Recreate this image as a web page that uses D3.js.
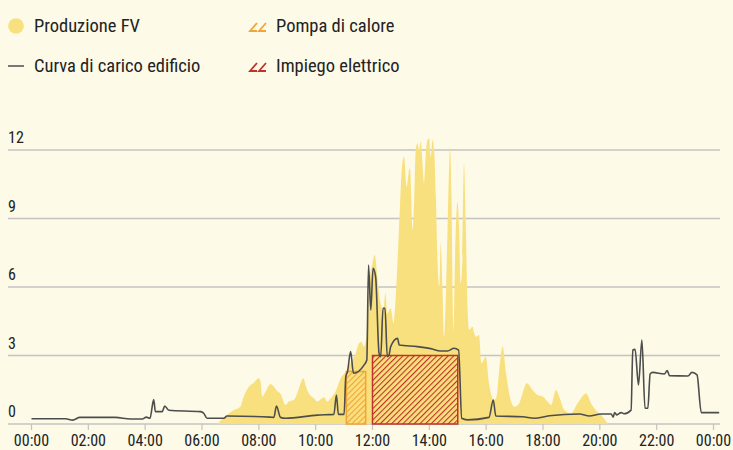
<!DOCTYPE html>
<html>
<head>
<meta charset="utf-8">
<script src="https://cdn.jsdelivr.net/npm/d3@7"></script>
<style>
    body { margin: 0; background: #fdfae8; }
    text { font-family: "Liberation Sans Narrow", "Roboto Condensed", "DejaVu Sans Condensed", sans-serif; fill: #222; }
</style>
</head>
<body>
<div id="chart"></div>
<script>
// hours of day, kW
let pvData = [
    [6.53, 0], [6.88, 0.39], [7.12, 0.61], [7.35, 0.76], [7.47, 1.2], [7.65, 1.63], [7.82, 1.81], [8.0, 2.0],
    [8.06, 1.85], [8.12, 1.2], [8.24, 1.42], [8.41, 1.75], [8.53, 1.63], [8.67, 1.41], [8.76, 1.34], [8.94, 0.83],
    [9.06, 0.98], [9.23, 1.05], [9.35, 1.34], [9.47, 1.78], [9.56, 2.0], [9.68, 1.56], [9.8, 1.27], [9.94, 1.13],
    [10.06, 0.98], [10.17, 1.08], [10.29, 1.17], [10.41, 0.98], [10.53, 1.13], [10.7, 1.42], [10.88, 2.0],
    [11.06, 2.29], [11.23, 2.66], [11.41, 3.1], [11.52, 3.53], [11.61, 3.6], [11.7, 3.39], [11.8, 3.97],
    [11.88, 6.01], [12.0, 7.04], [12.08, 7.4], [12.17, 6.45], [12.26, 5.43], [12.38, 4.99], [12.46, 5.72],
    [12.52, 4.85], [12.64, 5.07], [12.74, 4.41], [12.82, 5.58], [12.93, 8.5], [13.05, 11.42], [13.11, 11.71],
    [13.2, 10.39], [13.29, 11.13], [13.32, 11.2], [13.41, 8.5], [13.47, 9.96], [13.52, 12.0], [13.58, 12.3],
    [13.64, 12.0], [13.7, 12.37], [13.76, 11.42], [13.81, 10.54], [13.87, 11.71], [13.93, 12.44], [13.99, 12.51],
    [14.05, 11.71], [14.11, 12.44], [14.17, 12.0], [14.23, 9.96], [14.29, 7.04], [14.35, 6.01], [14.4, 7.91],
    [14.46, 6.01], [14.52, 3.82], [14.58, 5.58], [14.64, 8.5], [14.7, 11.42], [14.73, 12.1], [14.78, 9.96],
    [14.82, 5.58], [14.85, 4.12], [14.9, 7.04], [14.99, 9.74], [15.05, 8.5], [15.1, 6.16], [15.16, 7.04],
    [15.22, 11.42], [15.28, 8.94], [15.34, 5.29], [15.4, 4.12], [15.52, 4.26], [15.58, 3.97], [15.64, 3.82],
    [15.75, 3.9], [15.83, 2.66], [15.99, 2.95], [16.1, 1.78], [16.28, 1.05], [16.37, 1.2], [16.46, 2.37],
    [16.58, 3.39], [16.7, 2.22], [16.81, 1.34], [16.99, 0.76], [17.16, 0.9], [17.28, 1.34], [17.43, 1.78],
    [17.63, 1.49], [17.81, 1.27], [17.99, 1.2], [18.16, 0.98], [18.28, 0.83], [18.46, 1.49], [18.57, 1.2],
    [18.75, 0.61], [18.98, 0.47], [19.22, 0.91], [19.52, 1.34], [19.69, 0.91], [19.85, 0.61], [20.04, 0.4],
    [20.28, 0]
];

let loadData = [
    [0, 0.23], [1.2, 0.23], [1.45, 0.17], [1.7, 0.29], [2.95, 0.29], [3.48, 0.22], [3.9, 0.22], [4.04, 0.3],
    [4.17, 0.25], [4.3, 1.07], [4.36, 0.54], [4.6, 0.54], [4.69, 0.79], [4.83, 0.6], [5.95, 0.54], [6.06, 0.47],
    [6.18, 0.25], [6.77, 0.25], [6.88, 0.35], [8.4, 0.3], [8.53, 0.29], [8.62, 0.79], [8.76, 0.29], [8.94, 0.25],
    [10.06, 0.39], [10.64, 0.42], [10.73, 1.27], [10.8, 0.42], [11.0, 0.42], [11.06, 2.07], [11.12, 2.29],
    [11.23, 3.17], [11.33, 2.22], [11.7, 2.58], [11.8, 2.8], [11.86, 6.96], [11.94, 4.99], [12.02, 6.82],
    [12.11, 6.45], [12.23, 3.1], [12.29, 2.95], [12.37, 5.07], [12.44, 5.07], [12.52, 2.95], [12.58, 3.02],
    [12.64, 3.39], [12.88, 3.75], [12.94, 3.46], [13.58, 3.39], [14.05, 3.3], [14.4, 3.2], [14.64, 3.2],
    [14.87, 3.32], [15.03, 3.24], [15.14, 0.25], [15.34, 0.18], [16.1, 0.29], [16.25, 1.05], [16.34, 0.35],
    [17.28, 0.32], [17.69, 0.25], [18.22, 0.36], [19.28, 0.44], [19.63, 0.35], [20.04, 0.44], [20.4, 0.44],
    [20.47, 0.3], [20.52, 0.5], [20.6, 0.4], [20.75, 0.5], [20.85, 0.45], [21.1, 0.61], [21.16, 3.24],
    [21.24, 3.27], [21.36, 1.71], [21.48, 3.68], [21.59, 0.69], [21.69, 0.69], [21.77, 2.19], [21.86, 2.26],
    [22.27, 2.19], [22.37, 2.34], [22.45, 2.12], [23.1, 2.1], [23.24, 2.26], [23.42, 2.15], [23.57, 0.5],
    [24.2, 0.5]
];

// [start hour, end hour, kW]
let heatPump = [11.08, 11.76, 2.3];
let electricUse = [12.0, 15.0, 3.0];

let yTicks = [0, 3, 6, 9, 12];
let xTicks = [0, 2, 4, 6, 8, 10, 12, 14, 16, 18, 20, 22, 24];
let xTickLabels = ["00:00", "02:00", "04:00", "06:00", "08:00", "10:00", "12:00",
    "14:00", "16:00", "18:00", "20:00", "22:00", "00:00"];

let legendItems = ["Produzione FV", "Curva di carico edificio", "Pompa di calore", "Impiego elettrico"];

let width = 733, height = 450;
let pvColor = "#f9e07e", lineColor = "#4d4d4d", gridColor = "#c3c3c3";
let orange = "#f3a436", red = "#c0322a";

let svg = d3.select("#chart").append("svg")
    .attr("width", width)
    .attr("height", height);

let x = d3.scaleLinear().domain([0, 24]).range([31.5, 713.5]);
let y = d3.scaleLinear().domain([0, 12]).range([424, 150]);

let defs = svg.append("defs");
function hatch(id, color) {
    defs.append("pattern")
        .attr("id", id)
        .attr("patternUnits", "userSpaceOnUse")
        .attr("width", 4)
        .attr("height", 4)
        .attr("patternTransform", "rotate(45)")
        .append("line")
        .attr("x1", 0).attr("y1", 0)
        .attr("x2", 0).attr("y2", 4)
        .attr("stroke", color)
        .attr("stroke-width", 2.2);
}
hatch("hatchOrange", orange);
hatch("hatchRed", red);

// grid
let grid = svg.append("g");
grid.selectAll("line")
    .data(yTicks)
    .enter()
    .append("line")
    .attr("x1", 8)
    .attr("x2", 720)
    .attr("y1", function(d) { return y(d) })
    .attr("y2", function(d) { return y(d) })
    .attr("stroke", gridColor)
    .attr("stroke-width", 1.5);

grid.selectAll("text")
    .data(yTicks)
    .enter()
    .append("text")
    .attr("x", 8)
    .attr("y", function(d) { return y(d) - 7 })
    .style("font-size", "16px")
    .text(function(d) { return d });

// x axis ticks
let xAx = svg.append("g");
xAx.selectAll("line")
    .data(xTicks)
    .enter()
    .append("line")
    .attr("x1", function(d) { return x(d) })
    .attr("x2", function(d) { return x(d) })
    .attr("y1", 424)
    .attr("y2", 430)
    .attr("stroke", gridColor)
    .attr("stroke-width", 1.2);

xAx.selectAll("text")
    .data(xTicks)
    .enter()
    .append("text")
    .attr("x", function(d) { return x(d) })
    .attr("y", 446)
    .attr("text-anchor", "middle")
    .style("font-size", "16px")
    .text(function(d, i) { return xTickLabels[i] });

// PV production
let area = d3.area()
    .x(function(d) { return x(d[0]) })
    .y0(y(0))
    .y1(function(d) { return y(d[1]) })
    .curve(d3.curveMonotoneX);

svg.append("path")
    .attr("fill", pvColor)
    .attr("d", area(pvData));

// hatched blocks
function block(b, id, color) {
    svg.append("rect")
        .attr("x", x(b[0]))
        .attr("y", y(b[2]))
        .attr("width", x(b[1]) - x(b[0]))
        .attr("height", y(0) - y(b[2]))
        .attr("fill", "url(#" + id + ")")
        .attr("stroke", color)
        .attr("stroke-width", 1.5);
}
block(heatPump, "hatchOrange", orange);
block(electricUse, "hatchRed", red);

// load curve
let line = d3.line()
    .x(function(d) { return x(d[0]) })
    .y(function(d) { return y(d[1]) })
    .curve(d3.curveMonotoneX);

svg.append("path")
    .attr("fill", "none")
    .attr("stroke", lineColor)
    .attr("stroke-width", 1.6)
    .attr("d", line(loadData));

// legend
let legend = svg.append("g");
legend.append("circle")
    .attr("cx", 16).attr("cy", 26).attr("r", 7.8)
    .attr("fill", pvColor);
legend.append("line")
    .attr("x1", 8).attr("x2", 24)
    .attr("y1", 66).attr("y2", 66)
    .attr("stroke", lineColor)
    .attr("stroke-width", 1.5);

function hatchIcon(cy, color) {
    legend.append("path")
        .attr("d", "M257," + (cy - 3) + "L250," + (cy + 5) + "L257," + (cy + 5)
            + "M266," + (cy - 3) + "L259," + (cy + 5) + "L266," + (cy + 5))
        .attr("fill", "none")
        .attr("stroke", color)
        .attr("stroke-width", 1.8);
}
hatchIcon(26, orange);
hatchIcon(66, red);

let legendPos = [[34, 32], [34, 72], [276, 32], [276, 72]];
legend.selectAll("text")
    .data(legendItems)
    .enter()
    .append("text")
    .attr("x", function(d, i) { return legendPos[i][0] })
    .attr("y", function(d, i) { return legendPos[i][1] })
    .style("font-size", "18.5px")
    .text(function(d) { return d });
</script>
</body>
</html>
